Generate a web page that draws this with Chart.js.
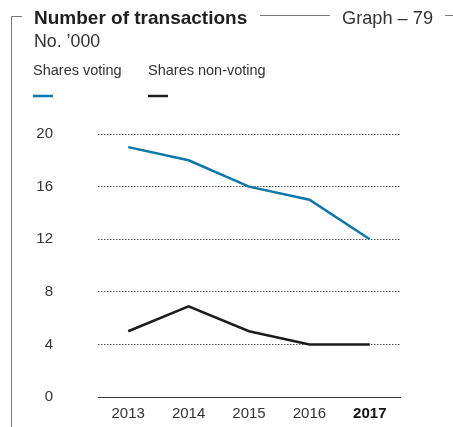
<!DOCTYPE html>
<html>
<head>
<meta charset="utf-8">
<script src="https://cdn.jsdelivr.net/npm/chart.js@4"></script>
<style>
  html, body { margin: 0; padding: 0; background: #fff; }
  #wrap { position: relative; width: 453px; height: 427px; }
</style>
</head>
<body>
<div id="wrap"><canvas id="txChart"></canvas></div>
<script>
const years = ['2013', '2014', '2015', '2016', '2017'];
const sharesVoting = [19, 18, 16, 15, 12];
const sharesNonVoting = [5, 6.9, 5, 4, 4];
const yTickValues = [0, 4, 8, 12, 16, 20];

const titleText = 'Number of transactions';
const graphText = 'Graph \u2013 79';
const unitText = 'No. \u2019000';

const FONT = '"Liberation Sans", Arial, Helvetica, sans-serif';
const BLUE = '#0b78a9';
const BLACK = '#1c1c1c';

// frame, heading and legend around the plot
const framePlugin = {
    id: 'frame',
    afterDraw(chart) {
        const ctx = chart.ctx;
        ctx.save();
        ctx.strokeStyle = '#7a7a7a';
        ctx.lineWidth = 1;
        ctx.beginPath();
        ctx.moveTo(11.5, 427);
        ctx.lineTo(11.5, 16.5);
        ctx.lineTo(22, 16.5);
        ctx.moveTo(260, 15.5);
        ctx.lineTo(330, 15.5);
        ctx.moveTo(445, 15.5);
        ctx.lineTo(453, 15.5);
        ctx.stroke();

        ctx.textBaseline = 'alphabetic';
        ctx.fillStyle = '#1e1e1e';
        ctx.font = 'bold 19px ' + FONT;
        ctx.fillText(titleText, 34, 24);
        ctx.fillStyle = '#333';
        ctx.font = '18.2px ' + FONT;
        ctx.fillText(graphText, 342, 24);
        ctx.font = '17.8px ' + FONT;
        ctx.fillText(unitText, 34, 47);

        // legend: label above a short line sample
        const legendX = [33, 148];
        ctx.font = '14.5px ' + FONT;
        chart.data.datasets.forEach((ds, i) => {
            ctx.fillStyle = '#333';
            ctx.fillText(ds.label, legendX[i], 75);
            ctx.strokeStyle = ds.borderColor;
            ctx.lineWidth = 2.5;
            ctx.beginPath();
            ctx.moveTo(legendX[i], 96);
            ctx.lineTo(legendX[i] + 20, 96);
            ctx.stroke();
        });
        ctx.restore();
    }
};

const data = {
    labels: years,
    datasets: [{
        label: 'Shares voting',
        data: sharesVoting,
        borderColor: BLUE,
        borderWidth: 2.5,
        pointRadius: 0,
        tension: 0
    }, {
        label: 'Shares non-voting',
        data: sharesNonVoting,
        borderColor: BLACK,
        borderWidth: 2.5,
        pointRadius: 0,
        tension: 0
    }]
};

const options = {
    responsive: false,
    animation: false,
    layout: { padding: { top: 134, right: 53, left: 0, bottom: 0 } },
    plugins: { legend: { display: false }, tooltip: { enabled: false } },
    scales: {
        y: {
            min: 0,
            max: 20,
            afterBuildTicks: s => { s.ticks = yTickValues.map(v => ({ value: v })); },
            afterFit: s => {
                // labels sit well left of the plot; the wide tick padding
                // shouldn't push the plot edges inward
                s.width = 98;
                s.paddingTop = 0;
                s.paddingBottom = 0;
            },
            border: { display: false, dash: [1.5, 1.5] },
            grid: {
                drawTicks: false,
                lineWidth: 1,
                color: c => c.tick && c.tick.value === 0 ? 'rgba(0,0,0,0)' : '#555'
            },
            ticks: {
                padding: 45,
                color: '#333',
                font: { family: FONT, size: 15 }
            }
        },
        x: {
            offset: true,
            afterFit: s => { s.height = 30; },
            grid: { display: false, drawTicks: false },
            border: { display: true, color: '#3a3a3a', width: 1 },
            ticks: {
                padding: 8,
                color: c => c.index === years.length - 1 ? '#111' : '#333',
                font: c => ({ family: FONT, size: 15, weight: c.index === years.length - 1 ? 'bold' : 'normal' })
            }
        }
    }
};

const canvas = document.getElementById('txChart');
canvas.width = 453;
canvas.height = 427;
new Chart(canvas.getContext('2d'), {
    type: 'line',
    data: data,
    options: options,
    plugins: [framePlugin]
});
</script>
</body>
</html>
